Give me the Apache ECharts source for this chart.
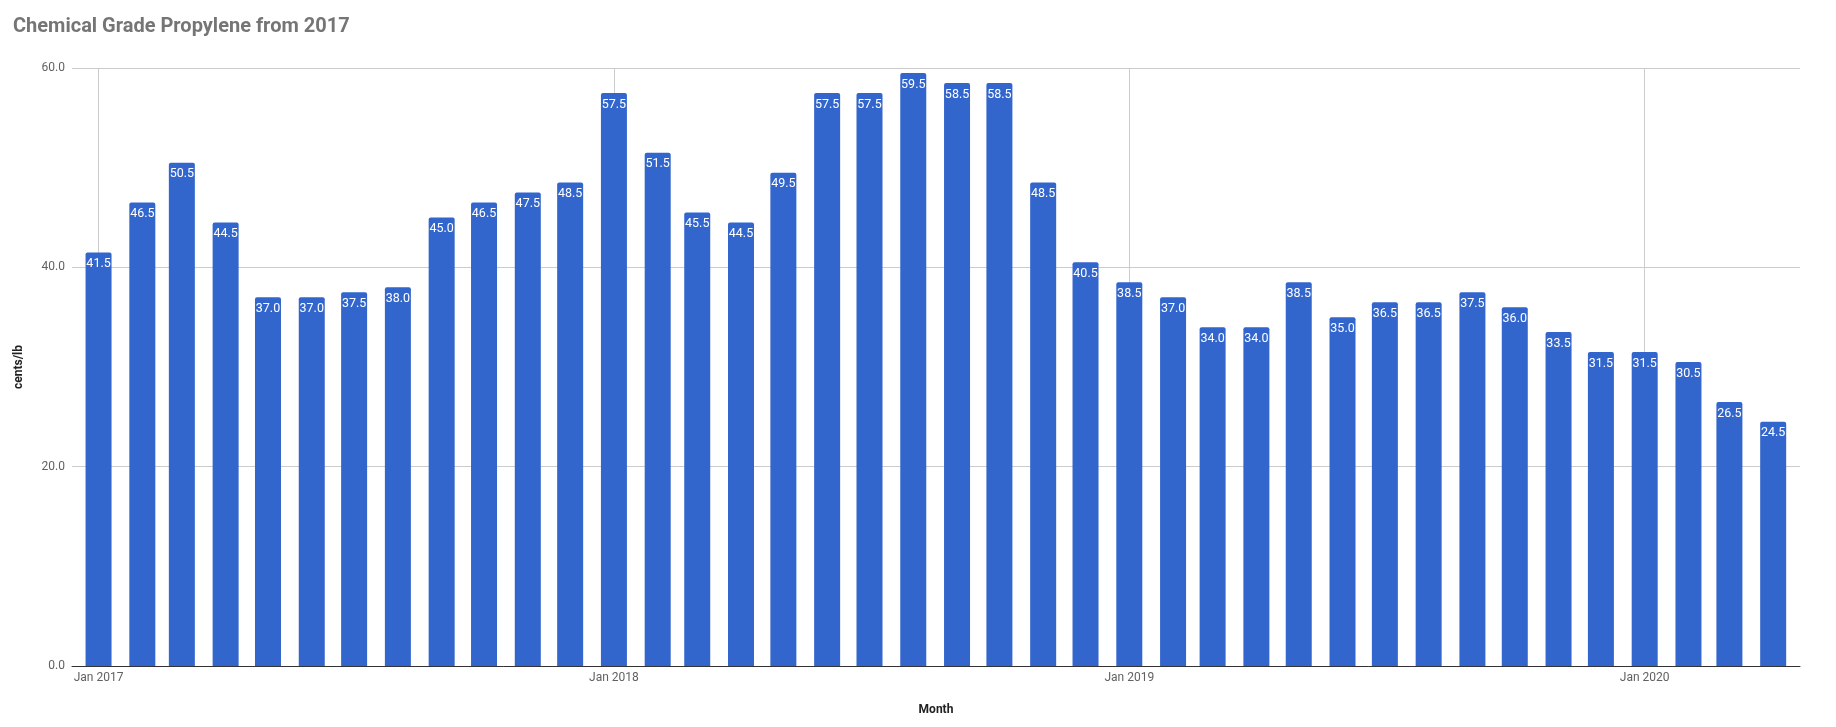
<!DOCTYPE html>
<html>
<head>
<meta charset="utf-8">
<script src="https://cdn.jsdelivr.net/npm/echarts@6/dist/echarts.min.js"></script>
<style>html,body{margin:0;padding:0;background:#fff}#c{width:1836px;height:727px}</style>
</head>
<body>
<div id="c"></div>
<script>
const months = [
  '2017-01-01','2017-02-01','2017-03-01','2017-04-01','2017-05-01','2017-06-01','2017-07-01','2017-08-01','2017-09-01','2017-10-01','2017-11-01','2017-12-01',
  '2018-01-01','2018-02-01','2018-03-01','2018-04-01','2018-05-01','2018-06-01','2018-07-01','2018-08-01','2018-09-01','2018-10-01','2018-11-01','2018-12-01',
  '2019-01-01','2019-02-01','2019-03-01','2019-04-01','2019-05-01','2019-06-01','2019-07-01','2019-08-01','2019-09-01','2019-10-01','2019-11-01','2019-12-01',
  '2020-01-01','2020-02-01','2020-03-01','2020-04-01'
];
const values = [
  41.5,46.5,50.5,44.5,37.0,37.0,37.5,38.0,45.0,46.5,47.5,48.5,
  57.5,51.5,45.5,44.5,49.5,57.5,57.5,59.5,58.5,58.5,48.5,40.5,
  38.5,37.0,34.0,34.0,38.5,35.0,36.5,36.5,37.5,36.0,33.5,31.5,
  31.5,30.5,26.5,24.5
];
const yTicks = [0, 20, 40, 60];
const MON = ['Jan','Feb','Mar','Apr','May','Jun','Jul','Aug','Sep','Oct','Nov','Dec'];

const DAY = 86400000;
const GRID = {left: 72, right: 36, top: 68, bottom: 61};
const BAR_W = 26;
const axisLen = 1836 - GRID.left - GRID.right;
// desired visible time range (a little padding around first/last month)
const wantMin = Date.UTC(2017, 0, 1) - 18.8 * DAY;
const wantMax = Date.UTC(2020, 0, 1) + 110.0 * DAY;
// ECharts widens a time axis carrying bars by the bar width; pre-shrink to compensate
const ctr = (wantMin + wantMax) / 2;
const half = (wantMax - wantMin) / 2 * (1 - BAR_W / axisLen);

const chart = echarts.init(document.getElementById('c'), null, {renderer: 'canvas'});
const FONT = 'Roboto, "Noto Sans", sans-serif';
chart.setOption({
  animation: false,
  textStyle: {fontFamily: FONT},
  title: {
    text: 'Chemical Grade Propylene from 2017',
    left: 8, top: 12,
    textStyle: {fontFamily: FONT, fontSize: 20, fontWeight: 'bold', color: '#757575'}
  },
  grid: Object.assign({containLabel: false}, GRID),
  xAxis: {
    type: 'time',
    min: ctr - half,
    max: ctr + half,
    minInterval: 365 * DAY,
    maxInterval: 366 * DAY,
    name: 'Month',
    nameLocation: 'middle',
    nameGap: 38,
    nameTextStyle: {fontFamily: FONT, fontSize: 12, fontWeight: 'bold', color: '#222'},
    axisLine: {show: true, lineStyle: {color: '#333', width: 1}},
    axisTick: {show: false},
    splitLine: {show: true, showMinLine: false, showMaxLine: false, lineStyle: {color: '#cccccc', width: 1}},
    axisLabel: {
      margin: 6,
      fontSize: 12, color: '#616161', fontFamily: FONT,
      showMinLabel: false, showMaxLabel: false,
      formatter: function (v) {
        const d = new Date(v);
        return MON[d.getUTCMonth()] + ' ' + d.getUTCFullYear();
      }
    }
  },
  yAxis: {
    type: 'value',
    min: yTicks[0], max: yTicks[yTicks.length - 1], interval: 20,
    name: 'cents/lb',
    nameLocation: 'middle',
    nameRotate: 90,
    nameGap: 47,
    nameTextStyle: {fontFamily: FONT, fontSize: 12, fontWeight: 'bold', color: '#222'},
    axisLine: {show: false},
    axisTick: {show: false},
    splitLine: {lineStyle: {color: '#cccccc', width: 1}},
    axisLabel: {
      margin: 7, fontSize: 12, color: '#616161', fontFamily: FONT,
      formatter: v => v.toFixed(1)
    }
  },
  series: [{
    type: 'bar',
    data: months.map((m, i) => [m, values[i]]),
    barWidth: BAR_W,
    itemStyle: {color: '#3366cc', borderRadius: [2, 2, 0, 0]},
    label: {
      show: true, position: 'insideTop', distance: 5,
      color: '#ffffff', fontSize: 12.5, fontFamily: FONT,
      formatter: p => p.value[1].toFixed(1)
    }
  }]
});
</script>
</body>
</html>
